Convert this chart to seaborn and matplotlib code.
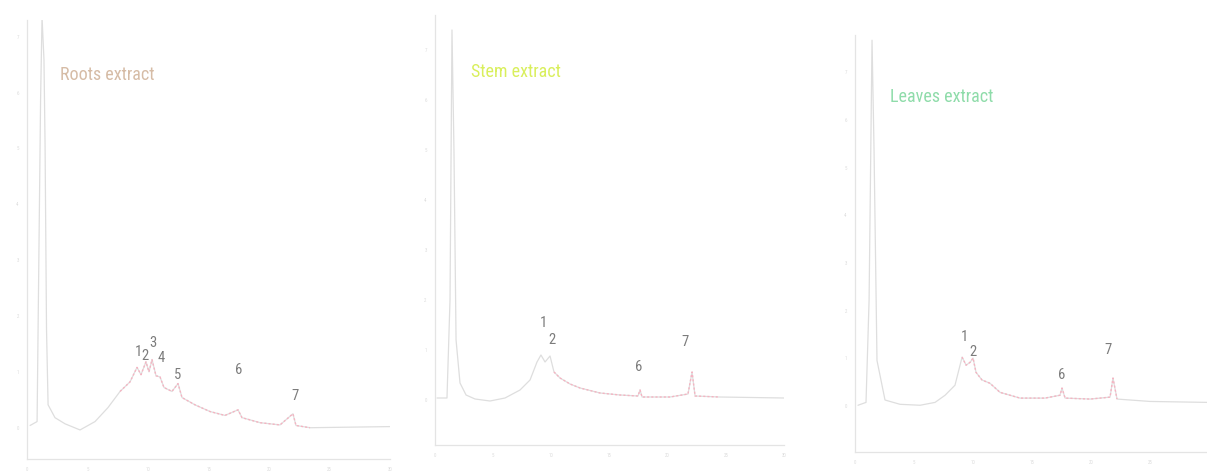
import matplotlib
matplotlib.use("Agg")
import matplotlib.pyplot as plt
import seaborn as sns
import pandas as pd
import numpy as np

# ---------------- data ----------------
panel_titles = ["Roots extract", "Stem extract", "Leaves extract"]

roots_t = [0.25, 0.83, 1.12, 1.24, 1.40, 1.49, 1.61, 1.74, 2.31, 3.14, 4.38, 5.62, 6.69, 7.69,
           8.51, 9.09, 9.42, 9.83, 10.08, 10.33, 10.66, 10.99, 11.32, 11.98, 12.48, 12.81,
           13.88, 15.12, 16.36, 17.44, 17.77, 19.26, 20.91, 21.98, 22.23, 23.39, 30.0]
roots_v = [0.04, 0.11, 5.88, 7.35, 6.59, 5.07, 1.76, 0.41, 0.18, 0.07, -0.04, 0.11, 0.36, 0.65,
           0.82, 1.08, 0.95, 1.18, 1.00, 1.22, 0.93, 0.91, 0.72, 0.65, 0.79, 0.54,
           0.41, 0.29, 0.22, 0.32, 0.18, 0.09, 0.05, 0.25, 0.04, 0.00, 0.02]

stem_t = [0.17, 1.03, 1.29, 1.46, 1.63, 1.81, 2.15, 2.67, 3.44, 4.73, 6.02, 7.31, 8.17, 8.77,
          9.11, 9.46, 9.89, 10.23, 10.75, 11.61, 12.47, 14.19, 15.91, 17.45, 17.63, 17.80,
          20.21, 21.75, 22.10, 22.36, 24.45, 30.0]
stem_v = [0.04, 0.04, 2.00, 7.40, 5.00, 1.20, 0.34, 0.10, 0.02, -0.02, 0.04, 0.20, 0.40, 0.76,
          0.90, 0.76, 0.88, 0.56, 0.44, 0.32, 0.24, 0.14, 0.10, 0.08, 0.20, 0.06,
          0.06, 0.12, 0.56, 0.08, 0.06, 0.04]

leaves_t = [0.25, 0.93, 1.19, 1.44, 1.61, 1.86, 2.54, 3.81, 5.51, 6.78, 7.63, 8.47, 8.90, 9.07,
            9.41, 9.75, 10.00, 10.25, 10.76, 11.44, 12.29, 13.98, 16.10, 17.37, 17.54, 17.80,
            19.92, 21.61, 21.86, 22.20, 25.00, 29.83]
leaves_v = [0.02, 0.08, 2.22, 7.67, 5.37, 0.96, 0.13, 0.04, 0.02, 0.08, 0.23, 0.44, 0.86, 1.03,
            0.86, 0.92, 1.01, 0.71, 0.55, 0.48, 0.29, 0.17, 0.17, 0.23, 0.38, 0.17,
            0.15, 0.19, 0.59, 0.15, 0.10, 0.08]

# integrated (red-marked) region of each trace, in minutes
red_ranges = [(7.3, 24.0), (10.0, 26.5), (9.0, 22.5)]

# peak numbers and label anchor positions (minutes, intensity)
roots_peaks = ["1", "2", "3", "4", "5", "6", "7"]
roots_peak_t = [9.17, 9.75, 10.41, 11.07, 12.48, 17.52, 22.15]
roots_peak_v = [1.36, 1.29, 1.51, 1.25, 0.95, 1.04, 0.56]

stem_peaks = ["1", "2", "6", "7"]
stem_peak_t = [9.29, 10.06, 17.54, 21.50]
stem_peak_v = [1.54, 1.20, 0.66, 1.16]

leaves_peaks = ["1", "2", "6", "7"]
leaves_peak_t = [9.24, 10.00, 17.54, 21.44]
leaves_peak_v = [1.45, 1.13, 0.65, 1.17]

x_ticks = [0, 5, 10, 15, 20, 25, 30]
y_ticks = [0, 1, 2, 3, 4, 5, 6, 7]

# ---------------- styling ----------------
sns.set_style("white")
plt.rcParams["font.family"] = ["Roboto Condensed", "DejaVu Sans Condensed", "Roboto", "DejaVu Sans"]

title_colors = ["#d6bca6", "#d9ef5c", "#8fdcaa"]
trace_color = "#dedede"
red_color = "#f6b4c2"
axis_color = "#e4e4e4"
label_color = "#7c7c7c"

fig = plt.figure(figsize=(12.07, 4.71), dpi=100)

rects = [[0.0224, 0.0255, 0.3007, 0.932],
         [0.3604, 0.0552, 0.2891, 0.913],
         [0.7084, 0.0403, 0.2933, 0.8854]]
ylims = [(-0.56, 7.3), (-0.9, 7.7), (-0.96, 7.78)]
title_pos = [(0.091, 0.875), (0.103, 0.867), (0.099, 0.851)]

traces = [(roots_t, roots_v), (stem_t, stem_v), (leaves_t, leaves_v)]
peaks = [(roots_peaks, roots_peak_t, roots_peak_v),
         (stem_peaks, stem_peak_t, stem_peak_v),
         (leaves_peaks, leaves_peak_t, leaves_peak_v)]

for i in range(3):
    ax = fig.add_axes(rects[i])
    t, v = traces[i]
    df = pd.DataFrame({"time": t, "intensity": v})
    sns.lineplot(data=df, x="time", y="intensity", ax=ax, color=trace_color,
                 lw=0.9, sort=False, estimator=None)
    lo, hi = red_ranges[i]
    sub = df[(df["time"] >= lo) & (df["time"] <= hi)]
    sns.lineplot(data=sub, x="time", y="intensity", ax=ax, color=red_color,
                 lw=1.0, sort=False, estimator=None, linestyle=(0, (1.5, 1.5)))

    names, pt, pv = peaks[i]
    for n, a, b in zip(names, pt, pv):
        ax.text(a, b, n, color=label_color, fontsize=10.5, ha="center", va="center",
                fontstretch="condensed")

    ax.text(title_pos[i][0], title_pos[i][1], panel_titles[i], transform=ax.transAxes,
            color=title_colors[i], fontsize=13, ha="left", va="center",
            fontstretch="condensed")

    ax.set_xlim(0, 30)
    ax.set_ylim(*ylims[i])
    ax.set_xticks(x_ticks)
    ax.set_yticks(y_ticks)
    xl = [str(x) for x in x_ticks]
    if i == 2:
        xl[-1] = ""
    ax.set_xticklabels(xl, fontsize=3.5, color="#dcdcdc")
    ax.set_yticklabels([str(y) for y in y_ticks], fontsize=3.5, color="#dcdcdc")
    ax.tick_params(axis="both", length=3, width=0.6, color=axis_color, pad=3)
    ax.set_xlabel("")
    ax.set_ylabel("")
    for s in ["top", "right"]:
        ax.spines[s].set_visible(False)
    for s in ["left", "bottom"]:
        ax.spines[s].set_color(axis_color)
        ax.spines[s].set_linewidth(0.9)
    ax.set_facecolor("white")

fig.savefig("out.png", dpi=100, facecolor="white")
